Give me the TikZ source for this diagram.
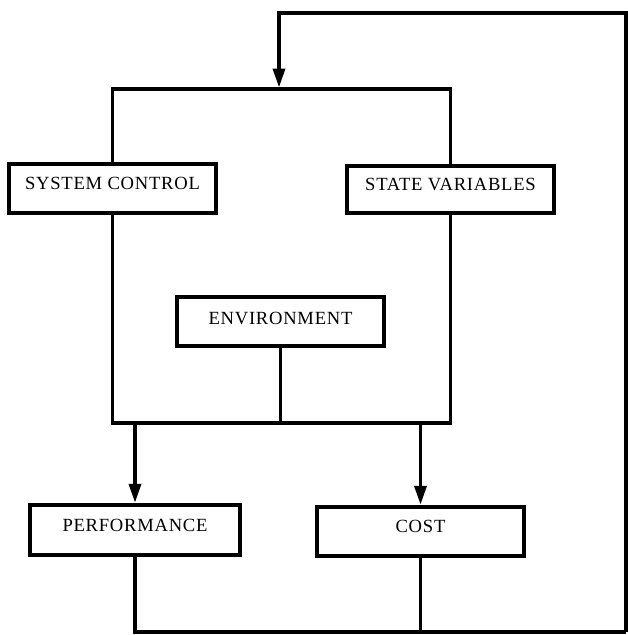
\documentclass[tikz,border=0pt]{standalone}
\usepackage{fontspec}
\setmainfont{Liberation Serif}[LetterSpace=4]
\usetikzlibrary{arrows.meta}
\begin{document}
\begin{tikzpicture}[x=1pt,y=-1pt,
  blockbox/.style={draw, line width=4.5pt, fill=white, minimum width=207pt,
    minimum height=49pt, inner sep=0pt, text height=12.5pt, text depth=10pt,
    font=\fontsize{18.6}{20}\selectfont},
  link/.style={line width=3.5pt, line join=miter},
  flow/.style={link, -{Triangle[length=19pt,width=12pt]}}]
\useasboundingbox (0,0) rectangle (628,635);

% blocks
\node[blockbox] (sc)   at (112.5,188.5) {SYSTEM CONTROL};
\node[blockbox, minimum height=47pt] (sv) at (450.5,189.5) {STATE VARIABLES};
\node[blockbox, text depth=7pt] (env) at (280.5,321.5) {ENVIRONMENT};
\node[blockbox, minimum width=210pt, minimum height=50pt] (perf) at (135,530) {PERFORMANCE};
\node[blockbox] (cost) at (420.5,531.5) {COST};

% frame joining the system blocks
\coordinate (ftl) at (112.5,89);
\coordinate (ftr) at (450.5,89);
\coordinate (fbl) at (112.5,423);
\coordinate (fbr) at (450.5,423);
\coordinate (fin) at (279,89);

\draw[link] (sc.north) -- (ftl) -- (ftr) -- (sv.north);
\draw[link] (sc.south) -- (fbl) -- (fbr) -- (sv.south);
\draw[link] (env.south) -- (env.south |- fbl);

% outputs
\draw[flow] (perf.north |- fbl) -- (perf.north);
\draw[flow] (cost.north |- fbl) -- (cost.north);

% feedback loop
\coordinate (fbb) at (626,632);
\coordinate (fbt) at (626,13);
\draw[link] (perf.south) |- (fbb);
\draw[link] (cost.south) -- (cost.south |- fbb);
\draw[link] (fbb) -- (fbt) -- (628,13);
\draw[flow, shorten >=1.5pt] (fbt) -| (fin);
\end{tikzpicture}
\end{document}
